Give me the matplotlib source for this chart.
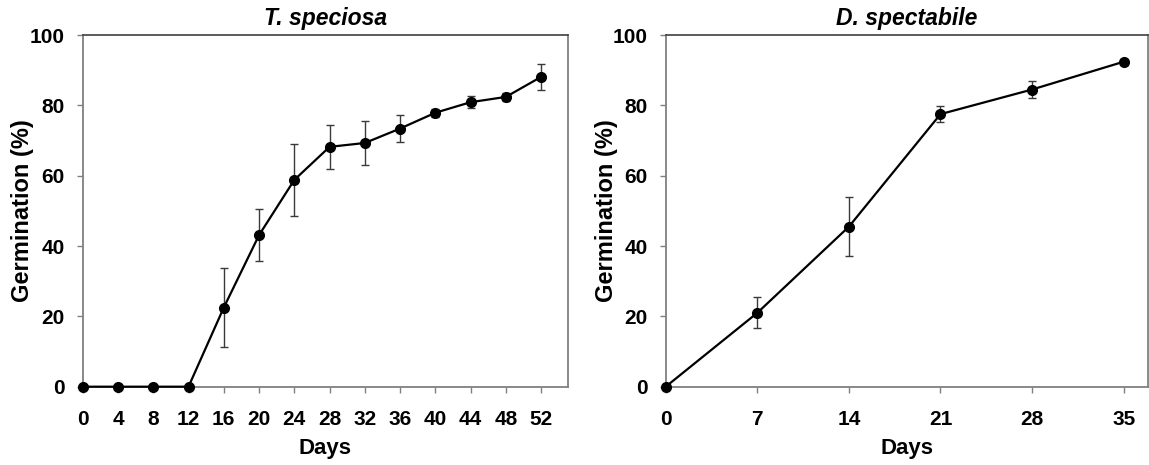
import numpy as np
import matplotlib
matplotlib.use("Agg")
import matplotlib.pyplot as plt

plt.rcParams["font.family"] = ["Liberation Sans", "DejaVu Sans"]
plt.rcParams["font.weight"] = "bold"

# T. speciosa
ts_days = [0, 4, 8, 12, 16, 20, 24, 28, 32, 36, 40, 44, 48, 52]
ts_germ = [0, 0, 0, 0, 22.5, 43.1, 58.8, 68.2, 69.3, 73.4, 77.9, 80.9, 82.4, 88.1]
ts_err = [0, 0, 0, 0, 11.2, 7.5, 10.3, 6.2, 6.3, 3.8, 1.2, 1.7, 1.2, 3.7]

# D. spectabile
ds_days = [0, 7, 14, 21, 28, 35]
ds_germ = [0, 21.0, 45.5, 77.5, 84.5, 92.4]
ds_err = [0, 4.4, 8.3, 2.3, 2.4, 0.8]

panels = [
    ("T. speciosa", ts_days, ts_germ, ts_err, ts_days, 55, [0.072, 0.1684, 0.422, 0.7563]),
    ("D. spectabile", ds_days, ds_germ, ds_err, ds_days, 36.85, [0.5794, 0.1684, 0.4196, 0.7563]),
]

fig = plt.figure(figsize=(11.49, 4.65), dpi=100)
for title, x, y, e, xt, xmax, rect in panels:
    ax = fig.add_axes(rect)
    ax.errorbar(x, y, yerr=e, fmt="none", ecolor="#3a3a3a", elinewidth=1.0,
                capsize=3.2, capthick=1.0, zorder=2)
    ax.plot(x, y, "-o", color="black", lw=1.6, ms=7, zorder=3, clip_on=False)
    ax.set_xlim(0, xmax); ax.set_ylim(0, 100)
    ax.set_xticks(xt); ax.set_yticks([0, 20, 40, 60, 80, 100])
    ax.tick_params(direction="out", length=4, width=1, color="#808080",
                   labelsize=15)
    ax.tick_params(axis="y", pad=9)
    ax.tick_params(axis="x", pad=13)
    for s in ["left", "right", "bottom"]:
        ax.spines[s].set_color("#808080"); ax.spines[s].set_linewidth(1.3)
    ax.spines["top"].set_color("#404040"); ax.spines["top"].set_linewidth(1.2)
    ax.set_title(title, fontsize=16.5, fontweight="bold", style="italic", pad=7)
    ax.set_xlabel("Days", fontsize=16, fontweight="bold")
    ax.set_ylabel("Germination (%)", fontsize=17, fontweight="bold")
    ax.xaxis.set_label_coords(0.5, -0.145)
    ax.yaxis.set_label_coords(-0.1, 0.5)

plt.savefig("out.png", dpi=100)
